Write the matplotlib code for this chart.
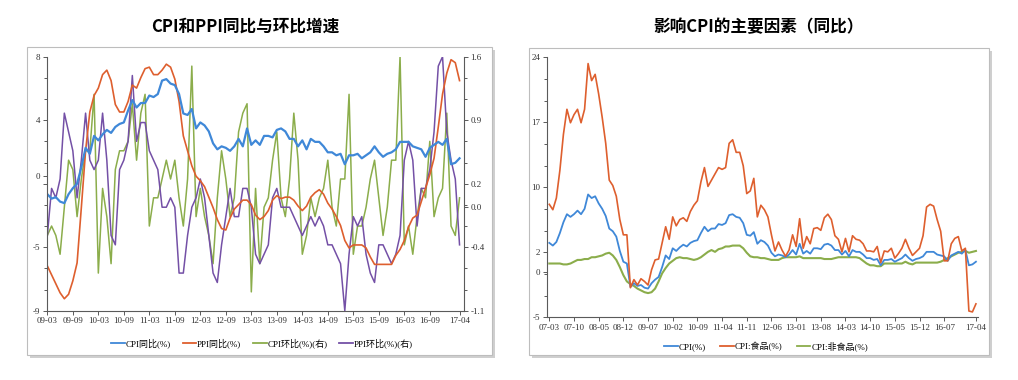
import numpy as np
import pandas as pd
import matplotlib
matplotlib.use('Agg')
import matplotlib.pyplot as plt
from matplotlib.patches import Rectangle
from matplotlib.lines import Line2D

# ---------------- data ----------------
# right panel: monthly, 2007-03 .. 2017-04
months_r = pd.period_range('2007-03', '2017-04', freq='M').strftime('%y-%m').tolist()
cpi = [3.3, 3.0, 3.4, 4.4, 5.6, 6.5, 6.2, 6.5, 6.9, 6.5,
       7.1, 8.7, 8.3, 8.5, 7.7, 7.1, 6.3, 4.9, 4.6, 4.0, 2.4, 1.2,
       1.0, -1.6, -1.2, -1.5, -1.4, -1.7, -1.8, -1.2, -0.8, -0.5, 0.6, 1.9,
       1.5, 2.7, 2.4, 2.8, 3.1, 2.9, 3.3, 3.5, 3.6, 4.4, 5.1, 4.6,
       4.9, 4.9, 5.4, 5.3, 5.5, 6.4, 6.5, 6.2, 6.1, 5.5, 4.2, 4.1,
       4.5, 3.2, 3.6, 3.4, 3.0, 2.2, 1.8, 2.0, 1.9, 1.7, 2.0, 2.5,
       2.0, 3.2, 2.1, 2.4, 2.1, 2.7, 2.7, 2.6, 3.1, 3.2, 3.0, 2.5,
       2.5, 2.0, 2.4, 1.8, 2.5, 2.3, 2.3, 2.0, 1.6, 1.6, 1.4, 1.5,
       0.8, 1.4, 1.4, 1.5, 1.2, 1.4, 1.6, 2.0, 1.6, 1.3, 1.5, 1.6,
       1.8, 2.3, 2.3, 2.3, 2.0, 1.9, 1.8, 1.3, 1.9, 2.1, 2.3, 2.1,
       2.5, 0.8, 0.9, 1.2]
cpi_food = [7.6, 7.0, 8.3, 11.4, 15.4, 18.2, 16.7, 17.6, 18.2, 16.7,
            18.2, 23.3, 21.4, 22.1, 19.9, 17.3, 14.4, 10.3, 9.7, 8.5, 5.9, 4.2,
            4.2, -1.7, -0.8, -1.4, -0.7, -1.0, -1.4, 0.3, 1.4, 1.5, 3.3, 5.1,
            3.7, 6.2, 5.2, 5.9, 6.1, 5.7, 6.8, 7.5, 8.0, 10.1, 11.7, 9.6,
            10.3, 11.0, 11.7, 11.5, 11.7, 14.4, 14.8, 13.4, 13.4, 11.9, 8.8, 9.1,
            10.5, 6.2, 7.5, 7.0, 6.2, 4.2, 2.4, 3.4, 2.5, 1.8, 2.5, 4.2,
            2.9, 6.0, 2.7, 4.0, 3.2, 4.9, 5.0, 4.7, 6.1, 6.5, 5.9, 4.1,
            3.7, 2.3, 3.8, 2.3, 4.1, 3.7, 3.6, 3.2, 2.4, 2.4, 2.3, 2.9,
            1.1, 2.4, 2.3, 2.7, 1.6, 2.1, 2.7, 3.7, 2.7, 1.9, 2.3, 2.7,
            4.1, 7.3, 7.6, 7.4, 5.9, 4.6, 1.3, 1.3, 3.2, 3.8, 4.0, 2.4,
            2.7, -4.3, -4.4, -3.5]
cpi_nonfood = [1.0, 1.0, 1.0, 1.0, 0.9, 0.9, 1.0, 1.2, 1.4, 1.4,
               1.5, 1.5, 1.7, 1.7, 1.8, 1.9, 2.1, 2.2, 1.9, 1.4, 0.6, -0.3,
               -1.0, -1.3, -1.5, -1.8, -2.0, -2.2, -2.3, -2.2, -1.8, -1.0, -0.1, 0.5,
               1.0, 1.3, 1.6, 1.7, 1.6, 1.6, 1.5, 1.4, 1.5, 1.7, 2.0, 2.3,
               2.5, 2.3, 2.6, 2.7, 2.9, 2.9, 3.0, 3.0, 3.0, 2.7, 2.2, 1.8,
               1.7, 1.7, 1.6, 1.6, 1.5, 1.4, 1.4, 1.4, 1.6, 1.7, 1.7, 1.7,
               1.7, 1.8, 1.6, 1.6, 1.6, 1.6, 1.6, 1.6, 1.5, 1.5, 1.5, 1.6,
               1.7, 1.7, 1.7, 1.7, 1.7, 1.7, 1.6, 1.3, 1.0, 0.8, 0.8, 0.7,
               0.7, 1.0, 1.0, 1.0, 1.0, 1.0, 1.0, 1.2, 1.0, 0.9, 1.1, 1.1,
               1.1, 1.1, 1.1, 1.1, 1.1, 1.2, 1.4, 1.6, 1.8, 2.0, 2.2, 2.3,
               2.4, 2.2, 2.3, 2.4]

# left panel: monthly, 2009-03 .. 2017-04
months_l = months_r[24:]
cpi_yoy = cpi[24:]
ppi_yoy = [-6.0, -6.6, -7.2, -7.8, -8.2, -7.9, -7.0, -5.8, -2.1, 1.7,
           4.3, 5.4, 5.9, 6.8, 7.1, 6.4, 4.8, 4.3, 4.3, 5.0, 6.1, 5.9,
           6.6, 7.2, 7.3, 6.8, 6.8, 7.1, 7.5, 7.3, 6.5, 5.0, 2.7, 1.7,
           0.7, 0.0, -0.3, -0.7, -1.4, -2.1, -2.9, -3.5, -3.6, -2.8, -2.2, -1.9,
           -1.6, -1.6, -1.9, -2.6, -2.9, -2.7, -2.3, -1.6, -1.3, -1.5, -1.4, -1.4,
           -1.6, -2.0, -2.3, -2.0, -1.4, -1.1, -0.9, -1.2, -1.8, -2.2, -2.7, -3.3,
           -4.3, -4.8, -4.6, -4.6, -4.6, -4.8, -5.4, -5.9, -5.9, -5.9, -5.9, -5.9,
           -5.3, -4.9, -4.3, -3.4, -2.8, -2.6, -1.7, -0.8, 0.1, 1.2, 3.3, 5.5,
           6.9, 7.8, 7.6, 6.4]
cpi_mom = [-0.3, -0.2, -0.3, -0.5, 0.0, 0.5, 0.4, -0.1, 0.3, 0.6,
           0.6, 1.2, -0.7, 0.2, -0.1, -0.6, 0.4, 0.6, 0.6, 0.7, 1.1, 0.5,
           1.0, 1.2, -0.2, 0.1, 0.1, 0.3, 0.5, 0.3, 0.5, 0.1, -0.2, 0.3,
           1.5, -0.1, 0.2, -0.1, -0.3, -0.6, 0.1, 0.6, 0.3, -0.1, 0.1, 0.8,
           1.0, 1.1, -0.9, 0.2, -0.6, 0.0, 0.1, 0.5, 0.8, 0.1, -0.1, 0.3,
           1.0, 0.5, -0.5, -0.3, 0.1, -0.1, 0.1, 0.2, 0.5, 0.0, -0.2, 0.3,
           0.3, 1.2, -0.5, -0.2, -0.2, 0.0, 0.3, 0.5, 0.1, -0.3, 0.0, 0.5,
           0.5, 1.6, -0.4, -0.2, -0.5, -0.1, 0.2, 0.1, 0.7, -0.1, 0.1, 0.2,
           1.0, -0.2, -0.3, 0.1]
ppi_mom = [-0.3, 0.2, 0.1, 0.3, 1.0, 0.8, 0.6, 0.1, 0.5, 1.0,
           0.5, 0.4, 0.5, 1.0, 0.5, -0.3, -0.4, 0.4, 0.5, 0.7, 1.4, 0.7,
           0.9, 0.9, 0.6, 0.5, 0.4, 0.0, 0.0, 0.1, 0.0, -0.7, -0.7, -0.3,
           0.0, 0.1, 0.3, 0.1, -0.3, -0.7, -0.8, -0.4, -0.1, 0.2, -0.1, -0.1,
           0.2, 0.2, 0.0, -0.5, -0.6, -0.5, -0.4, 0.1, 0.2, 0.0, 0.0, 0.0,
           -0.1, -0.2, -0.3, -0.2, -0.1, -0.2, -0.1, -0.2, -0.4, -0.4, -0.5, -0.6,
           -1.1, -0.5, -0.1, -0.2, -0.1, -0.5, -0.7, -0.8, -0.4, -0.4, -0.5, -0.6,
           -0.5, -0.3, 0.5, 0.7, 0.5, -0.2, 0.2, 0.2, 0.4, 0.8, 1.5, 1.6,
           0.8, 0.5, 0.3, -0.4]

xticks_l = ['09-03', '09-09', '10-03', '10-09', '11-03', '11-09', '12-03', '12-09', '13-03',
            '13-09', '14-03', '14-09', '15-03', '15-09', '16-03', '16-09', '17-04']
xticks_r = ['07-03', '07-10', '08-05', '08-12', '09-07', '10-02', '10-09', '11-04', '11-11',
            '12-06', '13-01', '13-08', '14-03', '14-10', '15-05', '15-12', '16-07', '17-04']
ylab_l = ['8', '4', '', '-5', '-9']
ylab_l2 = ['1.6', '0.9', '0.2', '-0.4', '-1.1']
ylab_r = ['24', '17', '10', '2', '-5']

# ---------------- style ----------------
C_BLUE = '#3f88d8'
C_ORANGE = '#de5f2e'
C_GREEN = '#8bad4b'
C_PURPLE = '#7450a6'
SPINE = '#5a5a5a'
TICKFONT = dict(family=['Liberation Serif', 'Noto Sans CJK SC'], size=6.5, color='#333333')
LEGFONT = {'family': ['Liberation Serif', 'Noto Sans CJK SC'], 'size': 6.5}

W, H = 1018, 380
fig = plt.figure(figsize=(W / 100, H / 100), dpi=100)
fig.patch.set_facecolor('white')


def px(x0, y0, x1, y1):
    return [x0 / W, 1 - y1 / H, (x1 - x0) / W, (y1 - y0) / H]


# panel frames with a small drop shadow (kept below the axes)
for (x0, y0, x1, y1) in [(27, 47, 492, 355), (529, 48, 989, 355)]:
    r = px(x0, y0, x1, y1)
    fig.patches.append(Rectangle((r[0] + 3 / W, r[1] - 3 / H), r[2], r[3], transform=fig.transFigure,
                                 facecolor='#cfcfcf', edgecolor='none', zorder=-3))
    fig.patches.append(Rectangle((r[0], r[1]), r[2], r[3], transform=fig.transFigure,
                                 facecolor='white', edgecolor='#bdbdbd', lw=0.8, zorder=-2))

title_font = dict(family=['Noto Sans CJK SC'], size=12, weight='bold', color='black')
fig.text(245 / W, 1 - 27 / H, 'CPI和PPI同比与环比增速', ha='center', va='center', **title_font)
fig.text(758 / W, 1 - 27 / H, '影响CPI的主要因素（同比）', ha='center', va='center', **title_font)


def style_axis(ax, sides):
    for s in ['top', 'right', 'left', 'bottom']:
        ax.spines[s].set_visible(s in sides)
        ax.spines[s].set_color(SPINE)
        ax.spines[s].set_linewidth(0.8)
    ax.tick_params(which='both', colors=SPINE, labelcolor='#333333', pad=1.5)
    ax.tick_params(which='major', length=3, width=0.7)
    ax.tick_params(which='minor', length=2.5, width=0.7)
    ax.patch.set_visible(False)


# ---------------- left panel ----------------
xl = np.arange(len(months_l))
ax1 = fig.add_axes(px(46.7, 56.7, 464, 310.7))
ax2 = ax1.twinx()
ax2.set_zorder(1)
ax1.set_zorder(2)

ax2.plot(xl, cpi_mom, color=C_GREEN, lw=1.1)
ax2.plot(xl, ppi_mom, color=C_PURPLE, lw=1.1)
ax1.plot(xl, ppi_yoy, color=C_ORANGE, lw=1.2)
ax1.plot(xl, cpi_yoy, color=C_BLUE, lw=1.6)

ax1.set_xlim(-0.15, len(months_l) + 0.05)
ax1.set_ylim(-9, 8)
ax2.set_ylim(-1.1, 1.6)

ax1.set_yticks(list(np.linspace(8, -9, 5)) + [0], ylab_l + ['0'], **TICKFONT)
ax1.set_yticks(np.linspace(-9, 8, 13), minor=True)
ax2.set_yticks(list(np.linspace(1.6, -1.1, 5)) + [0], ylab_l2 + ['0.0'], **TICKFONT)
ax2.set_yticks(np.linspace(-1.1, 1.6, 13), minor=True)
ax1.set_xticks([months_l.index(m) for m in xticks_l], xticks_l, **TICKFONT)
style_axis(ax1, ['left', 'bottom'])
style_axis(ax2, ['right'])

h1 = [Line2D([], [], color=c, lw=1.3) for c in [C_BLUE, C_ORANGE, C_GREEN, C_PURPLE]]
fig.legend(h1, ['CPI同比(%)', 'PPI同比(%)', 'CPI环比(%)(右)', 'PPI环比(%)(右)'],
           loc='center', bbox_to_anchor=(262 / W, 1 - 343 / H), ncol=4, frameon=False,
           prop=LEGFONT, handlelength=1.5, handletextpad=0.1, columnspacing=1.3)

# ---------------- right panel ----------------
xr = np.arange(len(months_r))
ax3 = fig.add_axes(px(546.7, 57.3, 977.7, 317.3))
ax3.set_zorder(1)
ax3.plot(xr, cpi_nonfood, color=C_GREEN, lw=1.5)
ax3.plot(xr, cpi, color=C_BLUE, lw=1.3)
ax3.plot(xr, cpi_food, color=C_ORANGE, lw=1.2)
ax3.set_xlim(-0.74, len(months_r) - 0.5)
ax3.set_ylim(-5, 24)
ax3.set_yticks(list(np.linspace(24, -5, 5)) + [0], ylab_r + ['0'], **TICKFONT)
ax3.set_yticks(np.linspace(-5, 24, 13), minor=True)
ax3.set_xticks([months_r.index(m) for m in xticks_r], xticks_r, **TICKFONT)
style_axis(ax3, ['left', 'bottom'])

h2 = [Line2D([], [], color=c, lw=1.3) for c in [C_BLUE, C_ORANGE, C_GREEN]]
fig.legend(h2, ['CPI(%)', 'CPI:食品(%)', 'CPI:非食品(%)'],
           loc='center', bbox_to_anchor=(766 / W, 1 - 346.7 / H), ncol=3, frameon=False,
           prop=LEGFONT, handlelength=1.5, handletextpad=0.1, columnspacing=1.6)

fig.savefig('out.png', dpi=100, facecolor='white')
